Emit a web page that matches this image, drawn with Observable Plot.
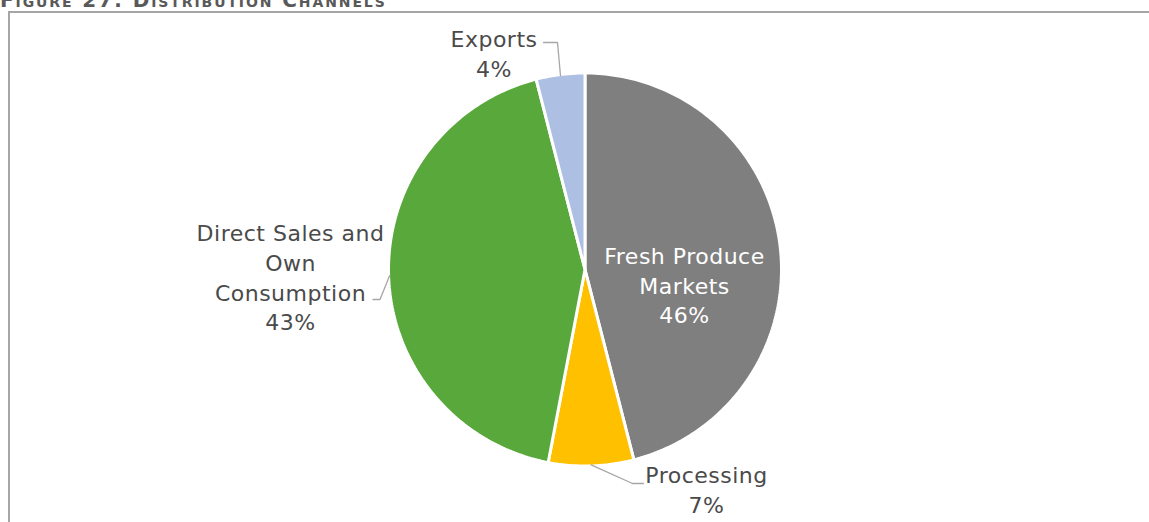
<!DOCTYPE html>
<html>
<head>
<meta charset="utf-8">
<script src="https://cdn.jsdelivr.net/npm/d3@7"></script>
<script src="https://cdn.jsdelivr.net/npm/@observablehq/plot@0.6"></script>
<style>
  html, body { margin: 0; padding: 0; background: #fff; overflow: hidden; }
  #wrap { position: relative; width: 1149px; height: 522px; overflow: hidden; }
  #title {
    position: absolute; left: 0; top: -8px; white-space: nowrap;
    font-family: "DejaVu Sans", sans-serif; font-weight: bold; font-size: 20px;
    line-height: 17px; font-variant: small-caps; color: #595959; letter-spacing: 1.9px;
  }
  #frame {
    position: absolute; left: 8px; top: 11px; width: 1300px; height: 700px;
    border: 2px solid #a6a6a6; box-sizing: border-box;
  }
  #chart { position: absolute; left: 0; top: 0; }
</style>
</head>
<body>
<div id="wrap">
  <div id="frame"></div>
  <div id="title">Figure 27: Distribution Channels</div>
  <div id="chart"></div>
</div>
<script>
// Distribution channels, share of volume (%)
const channels = ["Fresh Produce Markets", "Processing", "Direct Sales and Own Consumption", "Exports"];
const shares = [46, 7, 43, 4];
const labelLines = [["Fresh Produce", "Markets"], ["Processing"], ["Direct Sales and", "Own", "Consumption"], ["Exports"]];
const sliceColors = ["#7f7f7f", "#ffc000", "#59a83c", "#adbfe2"];

// Layout (pixels relative to the pie centre)
const W = 1149, H = 522;
const cx = 584.5, cy = 269, R = 196.5;
const labelCenter = [[99.5, 14.5], [121.5, 219], [-294.5, 6.5], [-91, -217]];
const leaderElbow = [null, [[47.5, 214], [58.5, 214]], [[-205, 30], [-212, 30]], [[-27.5, -227], [-41.5, -227]]];

// Slice angles, clockwise from 12 o'clock
const pie = d3.pie().sort(null).value(d => d)(shares);

const sliceRows = [];
pie.forEach((p, i) => {
  sliceRows.push({channel: channels[i], x: 0, y: 0});
  const steps = Math.max(2, Math.ceil((p.endAngle - p.startAngle) / (Math.PI / 180)));
  for (let k = 0; k <= steps; k++) {
    const a = p.startAngle + (p.endAngle - p.startAngle) * k / steps;
    sliceRows.push({channel: channels[i], x: R * Math.sin(a), y: -R * Math.cos(a)});
  }
});

const leaderRows = [];
pie.forEach((p, i) => {
  if (!leaderElbow[i]) return;
  const mid = (p.startAngle + p.endAngle) / 2;
  const r0 = R - 1;
  leaderRows.push({channel: channels[i], x: r0 * Math.sin(mid), y: -r0 * Math.cos(mid)});
  for (const [x, y] of leaderElbow[i]) leaderRows.push({channel: channels[i], x, y});
});

const labelRows = channels.map((c, i) => ({
  channel: c,
  x: labelCenter[i][0],
  y: labelCenter[i][1],
  text: [...labelLines[i], `${shares[i]}%`].join("\n"),
  inside: i === 0
}));

const chart = Plot.plot({
  width: W,
  height: H,
  margin: 0,
  x: {domain: [-cx, W - cx], range: [0, W], axis: null},
  y: {domain: [-cy, H - cy], range: [0, H], axis: null},
  color: {domain: channels, range: sliceColors},
  style: {background: "transparent", fontFamily: "'DejaVu Sans', sans-serif", letterSpacing: "0.5px"},
  marks: [
    Plot.line(sliceRows, {x: "x", y: "y", z: "channel", fill: "channel", stroke: "white",
      strokeWidth: 3, curve: "linear-closed", strokeLinejoin: "miter"}),
    Plot.line(leaderRows, {x: "x", y: "y", z: "channel", stroke: "#a6a6a6", strokeWidth: 1.3}),
    Plot.text(labelRows, {x: "x", y: "y", text: "text", fontSize: 22, lineHeight: 1.36,
      textAnchor: "middle", lineAnchor: "middle",
      fill: d => d.inside ? "#ffffff" : "#4a4a4a"})
  ]
});
document.getElementById("chart").append(chart);
</script>
</body>
</html>
